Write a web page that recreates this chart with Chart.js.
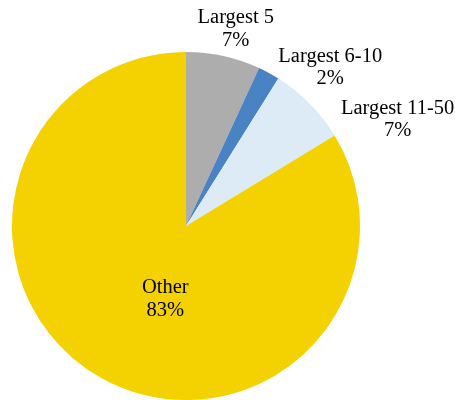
<!DOCTYPE html>
<html>
<head>
<meta charset="utf-8">
<script src="https://cdn.jsdelivr.net/npm/chart.js@4"></script>
<style>
html,body{margin:0;padding:0;background:#fff;}
#wrap{width:455px;height:400px;}
</style>
</head>
<body>
<div id="wrap"><canvas id="c" width="455" height="400"></canvas></div>
<script>
const categories = ["Largest 5", "Largest 6-10", "Largest 11-50", "Other"];
const shares = [6.9, 2.0, 7.4, 83.7];
const shareLabels = ["7%", "2%", "7%", "83%"];
const colors = ["#ADADAD", "#4A83C4", "#DDEBF7", "#F4D100"];

// first-line baseline anchor relative to pie centre, in units of outer radius
const labelOffsets = [[0.286, -1.165], [0.829, -0.943], [1.216, -0.644], [-0.119, 0.387]];

const labelPlugin = {
  id: 'sliceLabels',
  afterDatasetsDraw(chart) {
    const ctx = chart.ctx;
    const meta = chart.getDatasetMeta(0);
    ctx.save();
    ctx.font = '20.5px "Liberation Serif", "Times New Roman", serif';
    ctx.fillStyle = '#000';
    ctx.textAlign = 'center';
    ctx.textBaseline = 'alphabetic';
    meta.data.forEach((arc, i) => {
      const r = arc.outerRadius;
      const x = arc.x + labelOffsets[i][0] * r;
      const y = arc.y + labelOffsets[i][1] * r;
      ctx.fillText(categories[i], x, y);
      ctx.fillText(shareLabels[i], x, y + 22.5);
    });
    ctx.restore();
  }
};

new Chart(document.getElementById('c'), {
  type: 'pie',
  data: {
    labels: categories,
    datasets: [{
      data: shares,
      backgroundColor: colors,
      borderWidth: 0
    }]
  },
  options: {
    responsive: false,
    animation: false,
    layout: { padding: { left: 12, top: 52, right: 95, bottom: 0 } },
    plugins: { legend: { display: false }, tooltip: { enabled: false } }
  },
  plugins: [labelPlugin]
});
</script>
</body>
</html>
